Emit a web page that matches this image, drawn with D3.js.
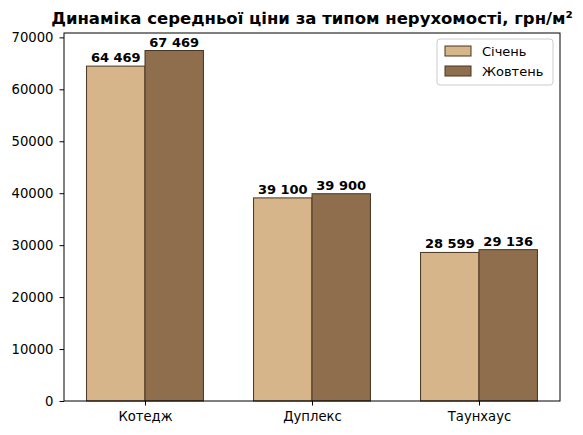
<!DOCTYPE html>
<html>
<head>
  <meta charset="utf-8">
  <title>Динаміка середньої ціни</title>
  <script src="https://d3js.org/d3.v7.min.js"></script>
  <style>
    body { margin: 0; background: #fff; }
    text { font-family: "DejaVu Sans", sans-serif; }
  </style>
</head>
<body>
  <svg width="583" height="435"></svg>
  <script>
    const categories = ["Котедж", "Дуплекс", "Таунхаус"];
    const seriesNames = ["Січень", "Жовтень"];
    const january = [64469, 39100, 28599];
    const october = [67469, 39900, 29136];
    const yTicks = [0, 10000, 20000, 30000, 40000, 50000, 60000, 70000];

    const colors = ["#D7B58B", "#8E6E4D"];
    const edge = "#4A3520";

    const svg = d3.select("svg");
    const margin = { top: 33, right: 23, bottom: 34, left: 64 };
    const width = 583 - margin.left - margin.right;
    const height = 435 - margin.top - margin.bottom;
    const g = svg.append("g").attr("transform", `translate(${margin.left},${margin.top})`);

    // numeric x like matplotlib: bars at i -/+ 0.175, width 0.35, 5% margin
    const barW = 0.35;
    const x = d3.scaleLinear()
      .domain([-barW - 0.135, categories.length - 1 + barW + 0.135])
      .range([0, width]);
    const yMax = d3.max(october.concat(january)) * 1.05;
    const y = d3.scaleLinear().domain([0, yMax]).range([height, 0]);

    const series = [january, october];
    const fmt = v => d3.format(",")(v).replace(/,/g, " ");

    series.forEach((vals, s) => {
      const off = s === 0 ? -barW : 0;
      g.selectAll(".bar" + s)
        .data(vals)
        .enter()
        .append("rect")
        .attr("x", (d, i) => x(i + off))
        .attr("width", x(barW) - x(0))
        .attr("y", d => y(d))
        .attr("height", d => height - y(d))
        .attr("fill", colors[s])
        .attr("stroke", edge)
        .attr("stroke-width", 1);

      g.selectAll(".lab" + s)
        .data(vals)
        .enter()
        .append("text")
        .attr("x", (d, i) => x(i + off + barW / 2))
        .attr("y", d => y(d) - 4)
        .attr("text-anchor", "middle")
        .attr("font-size", "13px")
        .attr("font-weight", "bold")
        .text(d => fmt(d));
    });

    const yAxis = g.append("g")
      .call(d3.axisLeft(y).tickValues(yTicks).tickSize(4.5).tickPadding(6).tickFormat(d3.format("d")));
    const xAxis = g.append("g")
      .attr("transform", `translate(0,${height})`)
      .call(d3.axisBottom(x).tickValues(d3.range(categories.length)).tickSize(4.5).tickPadding(6)
        .tickFormat(i => categories[i]));
    [yAxis, xAxis].forEach(a => {
      a.select(".domain").remove();
      a.selectAll("text").attr("font-size", "13.2px").attr("fill", "#000").style("font-family", "DejaVu Sans");
      a.selectAll("line").attr("stroke", "#000");
    });

    g.append("rect")
      .attr("width", width).attr("height", height)
      .attr("fill", "none").attr("stroke", "#000").attr("stroke-width", 1);

    svg.append("text")
      .attr("x", margin.left + width / 2)
      .attr("y", 24)
      .attr("text-anchor", "middle")
      .attr("font-size", "16.5px")
      .attr("font-weight", "bold")
      .text("Динаміка середньої ціни за типом нерухомості, грн/м²");

    // legend
    const lg = g.append("g").attr("transform", `translate(${width - 123},6)`);
    lg.append("rect")
      .attr("width", 116).attr("height", 46).attr("rx", 3)
      .attr("fill", "#fff").attr("fill-opacity", 0.8)
      .attr("stroke", "#ccc");
    seriesNames.forEach((name, s) => {
      lg.append("rect")
        .attr("x", 8).attr("y", 7 + s * 20)
        .attr("width", 26).attr("height", 10)
        .attr("fill", colors[s]).attr("stroke", edge);
      lg.append("text")
        .attr("x", 45).attr("y", 17 + s * 20)
        .attr("font-size", "13px")
        .text(name);
    });
  </script>
</body>
</html>
